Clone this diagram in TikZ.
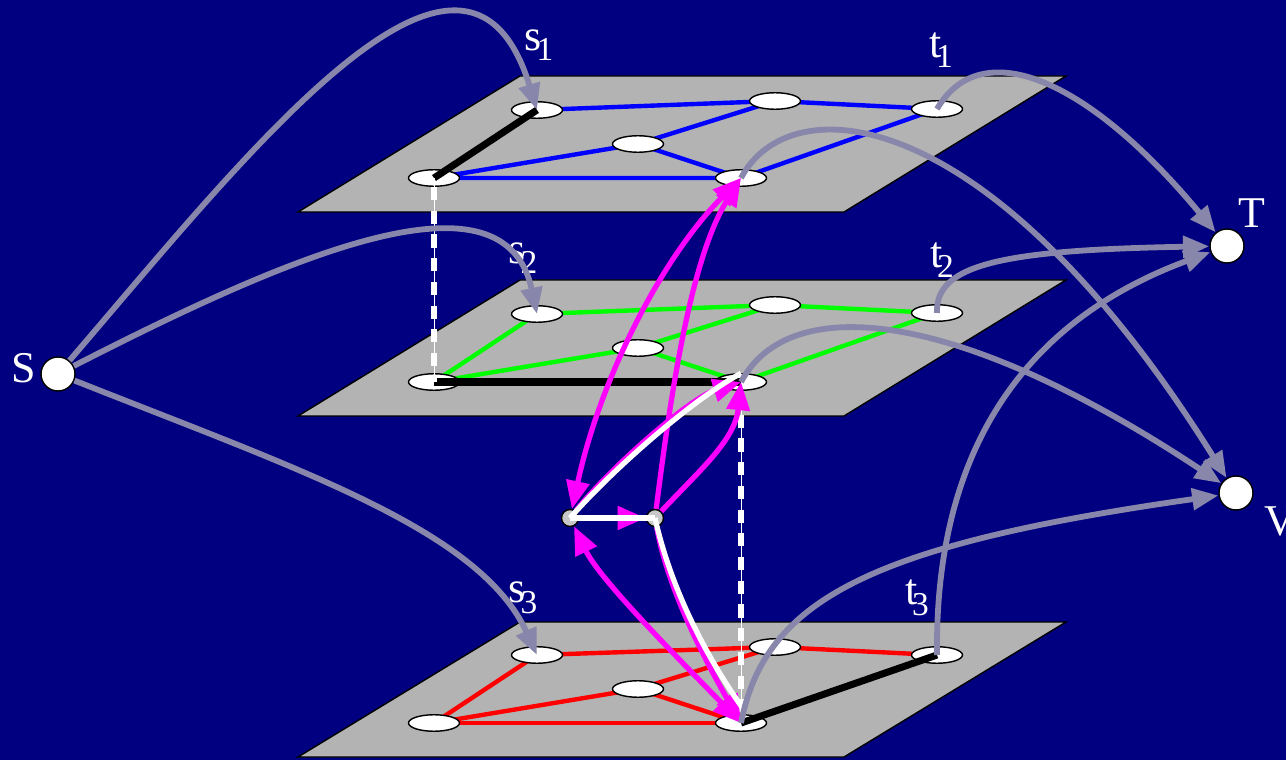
\documentclass[tikz,border=0pt]{standalone}
\usepackage{fontspec}
\setmainfont{Liberation Serif}
\usetikzlibrary{arrows.meta,shapes.geometric}
\pgfdeclarelayer{bg}
\pgfsetlayers{bg,main}
\definecolor{navy}{HTML}{000080}
\definecolor{planegray}{HTML}{B3B3B3}
\definecolor{lav}{RGB}{136,134,170}
\definecolor{hubgray}{HTML}{C8C8C8}
\definecolor{hot}{HTML}{FF00FF}
\definecolor{pureblue}{HTML}{0000FF}
\definecolor{puregreen}{HTML}{00FF00}
\definecolor{purered}{HTML}{FF0000}
\newcommand{\sublabel}[2]{#1\kern-3pt\raisebox{-6pt}{\fontsize{19}{19}\selectfont #2}}

\begin{document}
\begin{tikzpicture}[x=0.02cm,y=-0.02cm,
  vert/.style={ellipse,draw=black,line width=0.8pt,fill=white,minimum width=1.02cm,minimum height=0.33cm,inner sep=0pt},
  term/.style={circle,draw=black,line width=0.8pt,fill=white,minimum size=0.68cm,inner sep=0pt},
  hub/.style={circle,draw=black,line width=0.8pt,fill=hubgray,minimum size=0.34cm,inner sep=0pt},
  plane/.style={fill=planegray,draw=black,line width=0.8pt},
  lab/.style={text=white,font=\fontsize{25}{25}\selectfont,inner sep=0pt},
  flow/.style={draw=lav,line width=3.3pt,-{Triangle[length=15pt,width=12pt]}},
  bedge/.style={draw=pureblue,line width=2.5pt},
  gedge/.style={draw=puregreen,line width=2.5pt},
  redge/.style={draw=purered,line width=2.5pt},
  cut/.style={draw=black,line width=4pt},
  link/.style={draw=hot,line width=3pt},
  lhead/.style={-{Triangle[length=16pt,width=13pt]}},
  lboth/.style={{Triangle[length=16pt,width=13pt]}-{Triangle[length=16pt,width=13pt]}},
  sel/.style={draw=white,line width=3pt},
  thinrail/.style={draw=white,line width=0.5pt},
  dashrail/.style={draw=white,line width=3.2pt,dash pattern=on 7.5pt off 6pt}
]
\useasboundingbox (0,0) rectangle (1286,760);
% background and the three layer planes
\begin{pgfonlayer}{bg}
  \fill[navy] (0,0) rectangle (1286,760);
  \path[plane] (520,76) -- (1066,76) -- (844,212) -- (298,212) -- cycle;
  \path[plane] (520,280) -- (1066,280) -- (844,416) -- (298,416) -- cycle;
  \path[plane] (520,622) -- (1066,622) -- (844,757) -- (298,757) -- cycle;
\end{pgfonlayer}

% vertices of layer 1
\node[vert] (s1) at (537,110) {};
\node[vert] (a1) at (775,101) {};
\node[vert] (t1) at (937,109) {};
\node[vert] (c1) at (638,144) {};
\node[vert] (l1) at (434,178) {};
\node[vert] (r1) at (741,178) {};
% vertices of layer 2
\node[vert] (s2) at (537,314) {};
\node[vert] (a2) at (775,305) {};
\node[vert] (t2) at (937,313) {};
\node[vert] (c2) at (638,348) {};
\node[vert] (l2) at (434,382) {};
\node[vert] (r2) at (741,382) {};
% vertices of layer 3
\node[vert] (s3) at (537,655) {};
\node[vert] (a3) at (775,647) {};
\node[vert] (t3) at (937,655) {};
\node[vert] (c3) at (638,689) {};
\node[vert] (l3) at (434,723) {};
\node[vert] (r3) at (741,723) {};

% edges inside each layer, under the vertices
\begin{pgfonlayer}{bg}
  \draw[bedge] (s1.center) -- (a1.center) -- (t1.center);
  \draw[bedge] (a1.center) -- (c1.center) -- (r1.center);
  \draw[bedge] (c1.center) -- (l1.center) -- (r1.center) -- (t1.center);
  \draw[gedge] (s2.center) -- (a2.center) -- (t2.center);
  \draw[gedge] (a2.center) -- (c2.center) -- (r2.center) -- (t2.center);
  \draw[gedge] (c2.center) -- (l2.center) -- (s2.center);
  \draw[redge] (s3.center) -- (a3.center) -- (t3.center);
  \draw[redge] (a3.center) -- (c3.center) -- (r3.center) -- (t3.center);
  \draw[redge] (c3.center) -- (l3.center) -- (s3.center);
  \draw[redge] (l3.center) -- (r3.center);
\end{pgfonlayer}

% cut edges
\draw[cut] (s1.center) -- (l1.center);
\draw[cut] (l2.center) -- (r2.center);
\draw[cut] (r3.center) -- (t3.center);

% vertical rails between layers
\draw[thinrail] (l1.center) -- (l2.center);
\draw[dashrail] (l1.south) -- (l2.center);
\draw[thinrail] (r2.center) -- (r3.center);
\draw[dashrail] (r2.south) -- (r3.center);

% source and sinks
\node[term] (S) at (58,374) {};
\node[term] (T) at (1227,246) {};
\node[term] (V) at (1236,493) {};
\node[lab] (lS) at (24,368) {S};
\node[lab] (lT) at (1252,213) {T};
\node[lab] (lV) at (1280,521) {V};

% layer labels
\node[lab] (ls1) at (539,45) {\sublabel{s}{1}};
\node[lab] (lt1) at (941,50) {\sublabel{t}{1}};
\node[lab] (ls2) at (523,258) {\sublabel{s}{2}};
\node[lab] (lt2) at (942,260) {\sublabel{t}{2}};
\node[lab] (ls3) at (523,598) {\sublabel{s}{3}};
\node[lab] (lt3) at (917,598) {\sublabel{t}{3}};

% auxiliary hubs
\node[hub] (A) at (570,518) {};
\node[hub] (B) at (655,518) {};

% connections between layers through the hubs
\draw[link,lboth] (A) .. controls (600,380) and (660,260) .. (r1.center);
\draw[link,lhead] (B) .. controls (670,400) and (690,260) .. (r1.center);
\draw[link,lhead] (A) .. controls (612,466) and (690,398) .. (r2.center);
\draw[link,lhead] (B) .. controls (700,470) and (735,440) .. (r2.center);
\draw[link,lhead] (A) -- (B);
\draw[link,lboth] (r3.center) .. controls (680,660) and (600,580) .. (A);
\draw[link,lhead] (B) .. controls (668,590) and (705,660) .. (r3.center);
% selected path
\draw[sel] (A.center) .. controls (614,468) and (692,400) .. ([yshift=5pt]r2.center);
\draw[sel] (A.center) -- (B.center);
\draw[sel] (B.center) .. controls (671,590) and (708,660) .. ([xshift=2pt,yshift=7pt]r3.center);

% flows from the source and into the sinks
\draw[flow] (S) .. controls (250,150) and (465,-125) .. (s1.center);
\draw[flow] (S) .. controls (300,250) and (505,165) .. (s2.center);
\draw[flow] (S) .. controls (300,470) and (480,530) .. (s3.center);
\draw[flow] (t1.center) .. controls (980,35) and (1085,75) .. (T);
\draw[flow] (t2.center) .. controls (935,265) and (1000,250) .. (T);
\draw[flow] (t3.center) .. controls (935,480) and (1000,330) .. (T);
\draw[flow] (r1.center) .. controls (790,85) and (990,100) .. (V);
\draw[flow] (r2.center) .. controls (790,290) and (960,310) .. (V);
\draw[flow] (r3.center) .. controls (765,600) and (870,545) .. (V);
\end{tikzpicture}
\end{document}
